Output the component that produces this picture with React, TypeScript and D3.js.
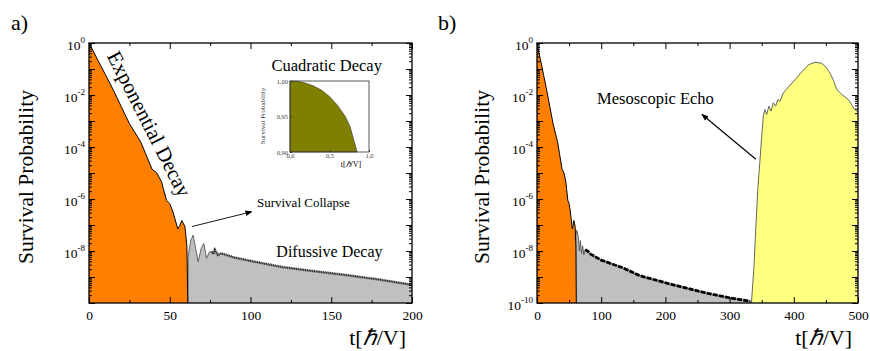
import { useEffect, useRef } from "react";
import * as d3 from "d3";

// time in units of hbar/V, survival probability kept as log10(P)

// exponential decay (orange) until the survival collapse, same in a) and b)
const decayT = [0, 5, 10, 15, 20, 25, 30, 32, 35, 39, 42, 45, 46, 48, 50, 52, 53.2, 55, 56, 57.5, 58.5, 59.4, 60.6, 61.2];
const decayLogP = [0, -0.6, -1.2, -1.8, -2.45, -3.1, -3.6, -3.8, -4.25, -4.85, -5.0, -5.35, -5.6, -6.05, -6.18, -6.5, -6.76, -7.15, -7.05, -6.83, -6.95, -7.06, -7.8, -10];

// a) difussive tail (gray)
const tailAT = [61.2, 61.4, 63, 64.5, 66, 67.6, 69.5, 71.1, 72.8, 74.5, 75.9, 77, 77.9, 79.8, 82, 90, 100, 120, 140, 160, 180, 200];
const tailALogP = [-10, -8.2, -7.6, -7.39, -7.9, -8.41, -7.9, -7.71, -8.28, -8.05, -8.02, -8.12, -7.96, -8.15, -8.09, -8.25, -8.38, -8.62, -8.78, -8.93, -9.1, -9.3];

// b) difussive tail up to the echo (gray)
const tailBT = [60.3, 60.5, 62, 64.5, 66, 67.5, 69.5, 71, 73, 75, 79, 82, 100, 134, 160, 212, 264, 300, 332, 335];
const tailBLogP = [-10, -7.4, -7.2, -7.5, -8.0, -7.6, -8.1, -7.8, -8.15, -7.95, -8.0, -8.1, -8.35, -8.65, -8.95, -9.3, -9.62, -9.8, -9.93, -10];

// b) mesoscopic echo (yellow)
const echoT = [334, 336, 338, 341, 344, 347, 350, 352.5, 355, 357.7, 361.2, 364.5, 368, 371.8, 374.8, 378.5, 383.7, 392, 402, 412, 422.6, 433, 443.5, 450, 456.5, 462, 467, 474.8, 485, 495, 500];
const echoLogP = [-10, -9.3, -8.6, -7.0, -5.6, -4.6, -3.6, -2.8, -2.56, -2.75, -2.43, -2.62, -2.3, -2.43, -2.18, -2.24, -1.92, -1.68, -1.41, -1.12, -0.84, -0.74, -0.78, -0.92, -1.16, -1.45, -1.79, -1.98, -2.18, -2.56, -2.65];

// inset: cuadratic decay at short times
const quadT = [0, 0.1, 0.2, 0.3, 0.4, 0.5, 0.6, 0.7, 0.76, 0.85];
const quadP = [1.0, 0.9995, 0.997, 0.993, 0.987, 0.978, 0.966, 0.95, 0.936, 0.9];

// ticks
const aXMajor = [0, 50, 100, 150, 200];
const aXMinor = [25, 75, 125, 175];
const bXMajor = [0, 100, 200, 300, 400, 500];
const bXMinor = [50, 150, 250, 350, 450];
const aYLabelled = [0, -2, -4, -6, -8];
const bYLabelled = [0, -2, -4, -6, -8, -10];
const insetXTicks = [0, 0.5, 1];
const insetXLabels = ["0,0", "0,5", "1,0"];
const insetYTicks = [0.9, 0.95, 1];
const insetYLabels = ["0,90", "0,95", "1,00"];

const FONT = "Liberation Serif, Times New Roman, serif";

type Pt = [number, number];
const toPts = (ts: number[], logs: number[]): Pt[] => ts.map((t, i) => [t, Math.pow(10, logs[i])]);

function drawFrame(svg: any, x: any, y: any, xMajor: number[], xMinor: number[], labelled: number[]) {
    const [x0, x1] = x.range();
    const [yb, yt] = y.range();
    const majorY = d3.range(-10, 1).map(k => Math.pow(10, k));
    const minorY = d3.range(-10, 0).flatMap(k => d3.range(2, 10).map(m => m * Math.pow(10, k)));

    const g = svg.append("g");
    const clean = (s: any) => {
        s.select(".domain").remove();
        s.attr("font-family", null).attr("font-size", 13.5);
        s.selectAll("line").attr("stroke", "#000");
        s.selectAll("text").attr("fill", "#000");
    };

    // bottom
    g.append("g").attr("transform", `translate(0,${yb})`)
        .call(d3.axisBottom(x).tickValues(xMajor).tickSizeInner(-6).tickSizeOuter(0).tickPadding(7).tickFormat(d3.format("d")))
        .call(clean);
    g.append("g").attr("transform", `translate(0,${yb})`)
        .call(d3.axisBottom(x).tickValues(xMinor).tickSizeInner(-3).tickSizeOuter(0).tickFormat(() => ""))
        .call(clean);
    // top
    g.append("g").attr("transform", `translate(0,${yt})`)
        .call(d3.axisTop(x).tickValues(xMajor).tickSizeInner(-6).tickSizeOuter(0).tickFormat(() => ""))
        .call(clean);
    g.append("g").attr("transform", `translate(0,${yt})`)
        .call(d3.axisTop(x).tickValues(xMinor).tickSizeInner(-3).tickSizeOuter(0).tickFormat(() => ""))
        .call(clean);

    // left with 10^n labels
    const left = g.append("g").attr("transform", `translate(${x0},0)`)
        .call(d3.axisLeft(y).tickValues(majorY).tickSizeInner(-6).tickSizeOuter(0).tickPadding(4).tickFormat(() => "10"))
        .call(clean);
    left.selectAll(".tick text").attr("dy", "0.45em").each(function (this: any, d: any) {
        const e = Math.round(Math.log10(d));
        const t = d3.select(this);
        t.text(null);
        if (!labelled.includes(e)) return;
        t.append("tspan").text("10");
        t.append("tspan").attr("font-size", 9).attr("dy", "-0.75em").text(String(e));
    });
    g.append("g").attr("transform", `translate(${x0},0)`)
        .call(d3.axisLeft(y).tickValues(minorY).tickSizeInner(-3).tickSizeOuter(0).tickFormat(() => ""))
        .call(clean);
    // right
    g.append("g").attr("transform", `translate(${x1},0)`)
        .call(d3.axisRight(y).tickValues(majorY).tickSizeInner(-6).tickSizeOuter(0).tickFormat(() => ""))
        .call(clean);
    g.append("g").attr("transform", `translate(${x1},0)`)
        .call(d3.axisRight(y).tickValues(minorY).tickSizeInner(-3).tickSizeOuter(0).tickFormat(() => ""))
        .call(clean);

    g.append("rect")
        .attr("x", x0).attr("y", yt).attr("width", x1 - x0).attr("height", yb - yt)
        .attr("fill", "none").attr("stroke", "#000").attr("stroke-width", 1.3);
}

function axisTitles(svg: any, x: any, y: any, yTitleX: number) {
    const [, x1] = x.range();
    const [yb, yt] = y.range();
    svg.append("text")
        .attr("transform", `translate(${yTitleX},${(yb + yt) / 2 + 4}) rotate(-90)`)
        .attr("text-anchor", "middle").attr("font-size", 21.5)
        .text("Survival Probability");
    const t = svg.append("text")
        .attr("x", x1 - 6).attr("y", yb + 42)
        .attr("text-anchor", "end").attr("font-size", 22);
    t.append("tspan").text("t[");
    t.append("tspan").attr("font-style", "italic").text("ℏ");
    t.append("tspan").text("/V]");
}

export default function App() {
    const svgRef = useRef<SVGSVGElement>(null);

    useEffect(() => {
        const svg = d3.select(svgRef.current);
        svg.selectAll("*").remove();
        svg.append("rect").attr("width", 870).attr("height", 351).attr("fill", "#fff");

        const defs = svg.append("defs");
        defs.append("marker")
            .attr("id", "arrow").attr("viewBox", "0 0 10 10")
            .attr("refX", 9).attr("refY", 5)
            .attr("markerWidth", 7).attr("markerHeight", 7)
            .attr("markerUnits", "userSpaceOnUse")
            .attr("orient", "auto")
            .append("path").attr("d", "M0,1 L10,5 L0,9 z").attr("fill", "#000");

        const yA = d3.scaleLog().domain([1e-10, 1]).range([303, 43]);
        const xA = d3.scaleLinear().domain([0, 200]).range([89, 412]);
        const yB = yA.copy();
        const xB = d3.scaleLinear().domain([0, 500]).range([537, 858]);

        const mkArea = (x: any, y: any) => d3.area<Pt>().x(d => x(d[0])).y0(y(1e-10)).y1(d => y(d[1]));
        const mkLine = (x: any, y: any) => d3.line<Pt>().x(d => x(d[0])).y(d => y(d[1]));

        const decay = toPts(decayT, decayLogP);
        const tailA = toPts(tailAT, tailALogP);
        const tailB = toPts(tailBT, tailBLogP);
        const echo = toPts(echoT, echoLogP);

        // ---------- panel a ----------
        const pa = svg.append("g");
        pa.append("path").datum(tailA).attr("d", mkArea(xA, yA)).attr("fill", "#c0c0c0");
        pa.append("path").datum(tailA).attr("d", mkLine(xA, yA)).attr("fill", "none").attr("stroke", "#555").attr("stroke-width", 0.9);
        pa.append("path").datum(tailA.filter(d => d[0] >= 75.9)).attr("d", mkLine(xA, yA))
            .attr("fill", "none").attr("stroke", "#333").attr("stroke-width", 2.6).attr("stroke-dasharray", "1,0.8");
        pa.append("path").datum(decay).attr("d", mkArea(xA, yA)).attr("fill", "#ff8000");
        pa.append("path").datum(decay).attr("d", mkLine(xA, yA)).attr("fill", "none").attr("stroke", "#000").attr("stroke-width", 1);

        drawFrame(pa, xA, yA, aXMajor, aXMinor, aYLabelled);
        axisTitles(pa, xA, yA, 33);

        // annotations a
        const ex = xA(33.4), ey = yA(Math.pow(10, -3.24));
        pa.append("text")
            .attr("transform", `translate(${ex},${ey}) rotate(63)`)
            .attr("text-anchor", "middle").attr("font-size", 21)
            .text("Exponential Decay");
        pa.append("text").attr("x", xA(113)).attr("y", yA(Math.pow(10, -1.07)))
            .attr("font-size", 16.5).text("Cuadratic Decay");
        pa.append("text").attr("x", xA(104)).attr("y", yA(Math.pow(10, -6.3)))
            .attr("font-size", 13).text("Survival Collapse");
        pa.append("line")
            .attr("x1", xA(63.7)).attr("y1", yA(Math.pow(10, -7.06)))
            .attr("x2", xA(100.8)).attr("y2", yA(Math.pow(10, -6.49)))
            .attr("stroke", "#000").attr("stroke-width", 0.9).attr("marker-end", "url(#arrow)");
        pa.append("text").attr("x", xA(116)).attr("y", yA(Math.pow(10, -8.24)))
            .attr("font-size", 16).text("Difussive Decay");

        // inset
        const ix = d3.scaleLinear().domain([0, 1]).range([290, 369]);
        const iy = d3.scaleLinear().domain([0.9, 1]).range([152, 81]);
        const quad: Pt[] = quadT.map((t, i) => [t, quadP[i]]);
        const ins = pa.append("g");
        ins.append("rect").attr("x", 290).attr("y", 81).attr("width", 79).attr("height", 71).attr("fill", "#fff");
        ins.append("path").datum(quad)
            .attr("d", d3.area<Pt>().x(d => ix(d[0])).y0(iy(0.9)).y1(d => iy(d[1])))
            .attr("fill", "#808000").attr("stroke", "#333").attr("stroke-width", 0.6);
        ins.append("rect").attr("x", 290).attr("y", 81).attr("width", 79).attr("height", 71)
            .attr("fill", "none").attr("stroke", "#333").attr("stroke-width", 0.8);
        const ixAxis = ins.append("g").attr("transform", "translate(0,152)")
            .call(d3.axisBottom(ix).tickValues(insetXTicks).tickSizeInner(-2).tickSizeOuter(0).tickPadding(1)
                .tickFormat((_d, i) => insetXLabels[i]));
        const iyAxis = ins.append("g").attr("transform", "translate(290,0)")
            .call(d3.axisLeft(iy).tickValues(insetYTicks).tickSizeInner(-2).tickSizeOuter(0).tickPadding(2)
                .tickFormat((_d, i) => insetYLabels[i]));
        [ixAxis, iyAxis].forEach(a => {
            a.select(".domain").remove();
            a.attr("font-family", null).attr("font-size", 6.5);
            a.selectAll("text").attr("fill", "#444");
            a.selectAll("line").attr("stroke", "#333");
        });
        const itl = ins.append("text").attr("x", 351).attr("y", 167)
            .attr("text-anchor", "middle").attr("font-size", 8);
        itl.append("tspan").text("t[");
        itl.append("tspan").attr("font-style", "italic").text("ℏ");
        itl.append("tspan").text("/V]");
        ins.append("text").attr("transform", "translate(265,116) rotate(-90)")
            .attr("text-anchor", "middle").attr("font-size", 7).attr("fill", "#333")
            .text("Survival Probability");

        // ---------- panel b ----------
        const pb = svg.append("g");
        pb.append("path").datum(tailB).attr("d", mkArea(xB, yB)).attr("fill", "#c0c0c0");
        pb.append("path").datum(tailB).attr("d", mkLine(xB, yB)).attr("fill", "none").attr("stroke", "#555").attr("stroke-width", 0.9);
        pb.append("path").datum(tailB.filter(d => d[0] >= 75 && d[0] <= 332)).attr("d", mkLine(xB, yB))
            .attr("fill", "none").attr("stroke", "#000").attr("stroke-width", 2.8).attr("stroke-dasharray", "5,1.2");
        pb.append("path").datum(decay).attr("d", mkArea(xB, yB)).attr("fill", "#ff8000");
        pb.append("path").datum(decay).attr("d", mkLine(xB, yB)).attr("fill", "none").attr("stroke", "#000").attr("stroke-width", 1);
        pb.append("path").datum(echo).attr("d", mkArea(xB, yB)).attr("fill", "#ffff80");
        pb.append("path").datum(echo).attr("d", mkLine(xB, yB)).attr("fill", "none").attr("stroke", "#555").attr("stroke-width", 0.9);

        drawFrame(pb, xB, yB, bXMajor, bXMinor, bYLabelled);
        axisTitles(pb, xB, yB, 489);

        pb.append("text").attr("x", xB(93.5)).attr("y", yB(Math.pow(10, -2.33)))
            .attr("font-size", 16.5).text("Mesoscopic Echo");
        pb.append("line")
            .attr("x1", xB(341)).attr("y1", yB(Math.pow(10, -4.47)))
            .attr("x2", xB(257)).attr("y2", yB(Math.pow(10, -2.75)))
            .attr("stroke", "#000").attr("stroke-width", 1.2).attr("marker-end", "url(#arrow)");

        // panel labels
        svg.append("text").attr("x", 11).attr("y", 30).attr("font-size", 22).text("a)");
        svg.append("text").attr("x", 438).attr("y", 30).attr("font-size", 22).text("b)");
    }, []);

    return (
        <svg ref={svgRef} width={870} height={351}
            style={{ position: "absolute", left: 0, top: 0, fontFamily: FONT }} />
    );
}
